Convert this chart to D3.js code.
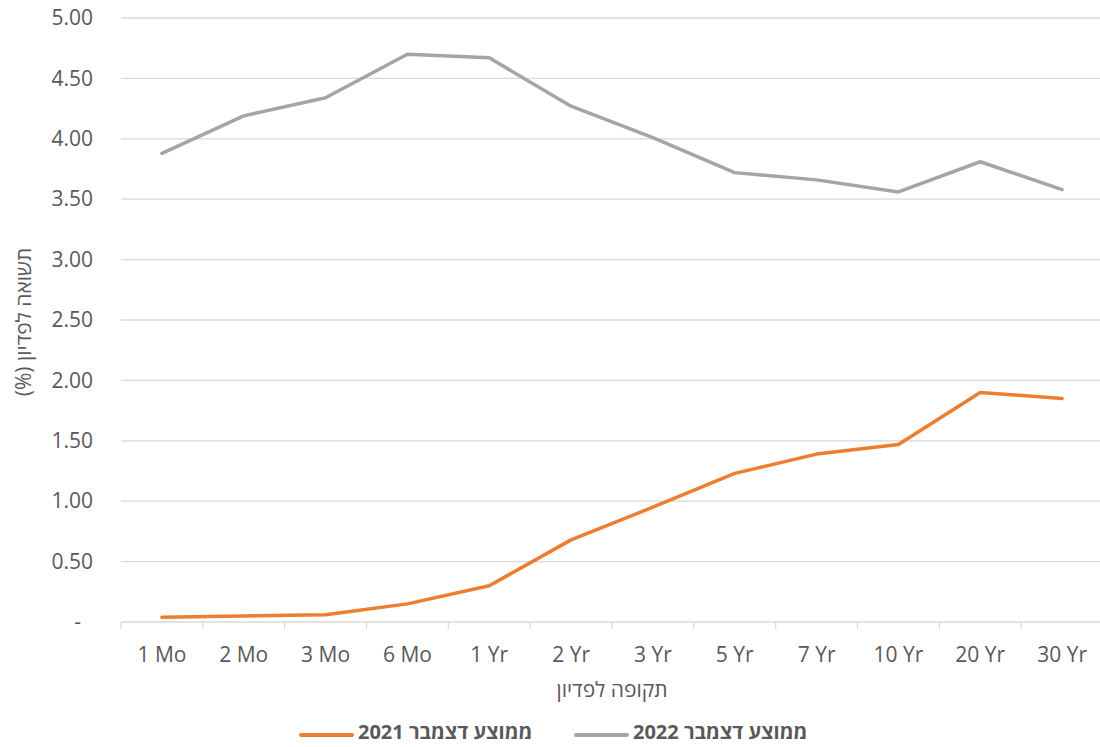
<!DOCTYPE html>
<html lang="he">
<head>
<meta charset="utf-8">
<script src="https://cdn.jsdelivr.net/npm/d3@7"></script>
<style>
  html, body { margin: 0; padding: 0; background: #fff; }
  svg { display: block; font-family: "Open Sans", "Noto Sans", "DejaVu Sans", sans-serif; }
</style>
</head>
<body>
<svg id="chart" width="1100" height="747"></svg>
<script>
// Maturities (x categories)
const maturities = ["1 Mo", "2 Mo", "3 Mo", "6 Mo", "1 Yr", "2 Yr", "3 Yr", "5 Yr", "7 Yr", "10 Yr", "20 Yr", "30 Yr"];

// Average yields (%) per maturity
const yieldsDec2021 = [0.04, 0.05, 0.06, 0.15, 0.30, 0.68, 0.95, 1.23, 1.39, 1.47, 1.90, 1.85];
const yieldsDec2022 = [3.88, 4.19, 4.34, 4.70, 4.67, 4.27, 4.01, 3.72, 3.66, 3.56, 3.81, 3.58];

// Y axis ticks
const yTicks = [0, 0.5, 1, 1.5, 2, 2.5, 3, 3.5, 4, 4.5, 5];

// Series labels
const seriesNames = ["ממוצע דצמבר 2021", "ממוצע דצמבר 2022"];
const seriesColors = ["#ED7D31", "#A5A5A5"];

const yTitle = "תשואה לפדיון (%)";
const xTitle = "תקופה לפדיון";

const svg = d3.select("#chart");
const margin = { left: 121, right: 1103, top: 18, bottom: 622 };
const textColor = "#595959";
const gridColor = "#D9D9D9";
const fontSize = "21px";

const x = d3.scaleBand().domain(maturities).range([margin.left, margin.right]);
const y = d3.scaleLinear().domain([0, 5]).range([margin.bottom, margin.top]);

// Horizontal gridlines
svg.append("g")
  .selectAll("line")
  .data(yTicks.filter(d => d > 0))
  .join("line")
  .attr("x1", margin.left).attr("x2", 1100)
  .attr("y1", d => y(d)).attr("y2", d => y(d))
  .attr("stroke", gridColor).attr("stroke-width", 1.3);

// Y axis labels (zero shown as an accounting-style dash)
const yAxis = d3.axisLeft(y)
  .tickValues(yTicks)
  .tickSize(0)
  .tickPadding(28)
  .tickFormat(d => d === 0 ? "-" : d3.format(".2f")(d));
const gy = svg.append("g").attr("transform", `translate(${margin.left},0)`).call(yAxis);
gy.select(".domain").remove();
gy.selectAll("text")
  .attr("fill", textColor)
  .style("font-size", fontSize)
  .style("font-family", "'Open Sans', 'Noto Sans', sans-serif");
gy.selectAll(".tick").filter(d => d === 0).select("text").attr("dx", -12);

// X axis with tick marks at category boundaries
const xAxisG = svg.append("g").attr("transform", `translate(0,${margin.bottom})`);
xAxisG.append("line")
  .attr("x1", margin.left).attr("x2", 1100)
  .attr("y1", 0).attr("y2", 0)
  .attr("stroke", gridColor).attr("stroke-width", 1.3);
const boundaries = maturities.map(m => x(m)).concat([x(maturities[maturities.length - 1]) + x.bandwidth()]);
xAxisG.selectAll("line.tick")
  .data(boundaries)
  .join("line")
  .attr("class", "tick")
  .attr("x1", d => d).attr("x2", d => d)
  .attr("y1", 0).attr("y2", 7)
  .attr("stroke", gridColor).attr("stroke-width", 1.3);
xAxisG.selectAll("text")
  .data(maturities)
  .join("text")
  .attr("x", d => x(d) + x.bandwidth() / 2)
  .attr("y", 40)
  .attr("text-anchor", "middle")
  .attr("fill", textColor)
  .style("font-size", fontSize)
  .text(d => d);

// Axis titles
svg.append("text")
  .attr("x", 612).attr("y", 697)
  .attr("text-anchor", "middle")
  .attr("direction", "rtl")
  .attr("fill", textColor)
  .style("font-size", fontSize)
  .text(xTitle);

svg.append("text")
  .attr("transform", `translate(31,322) rotate(-90)`)
  .attr("text-anchor", "middle")
  .attr("direction", "rtl")
  .attr("fill", textColor)
  .style("font-size", fontSize)
  .text(yTitle);

// Lines
const line = d3.line()
  .x((d, i) => x(maturities[i]) + x.bandwidth() / 2)
  .y(d => y(d));

[yieldsDec2022, yieldsDec2021].forEach((vals, k) => {
  const idx = k === 0 ? 1 : 0;
  svg.append("path")
    .datum(vals)
    .attr("fill", "none")
    .attr("stroke", seriesColors[idx])
    .attr("stroke-width", 3.5)
    .attr("stroke-linejoin", "round")
    .attr("stroke-linecap", "round")
    .attr("d", line);
});

// Legend
const legendItems = [
  { name: seriesNames[0], color: seriesColors[0], x0: 301 },
  { name: seriesNames[1], color: seriesColors[1], x0: 576 }
];
const lg = svg.append("g");
legendItems.forEach(it => {
  lg.append("line")
    .attr("x1", it.x0).attr("x2", it.x0 + 51)
    .attr("y1", 735).attr("y2", 735)
    .attr("stroke", it.color).attr("stroke-width", 4)
    .attr("stroke-linecap", "round");
  lg.append("text")
    .attr("x", it.x0 + 57).attr("y", 739)
    .attr("fill", textColor)
    .style("font-size", "20px")
    .style("font-weight", "bold")
    .attr("direction", "rtl")
    .attr("text-anchor", "end")
    .text(it.name);
});
</script>
</body>
</html>
